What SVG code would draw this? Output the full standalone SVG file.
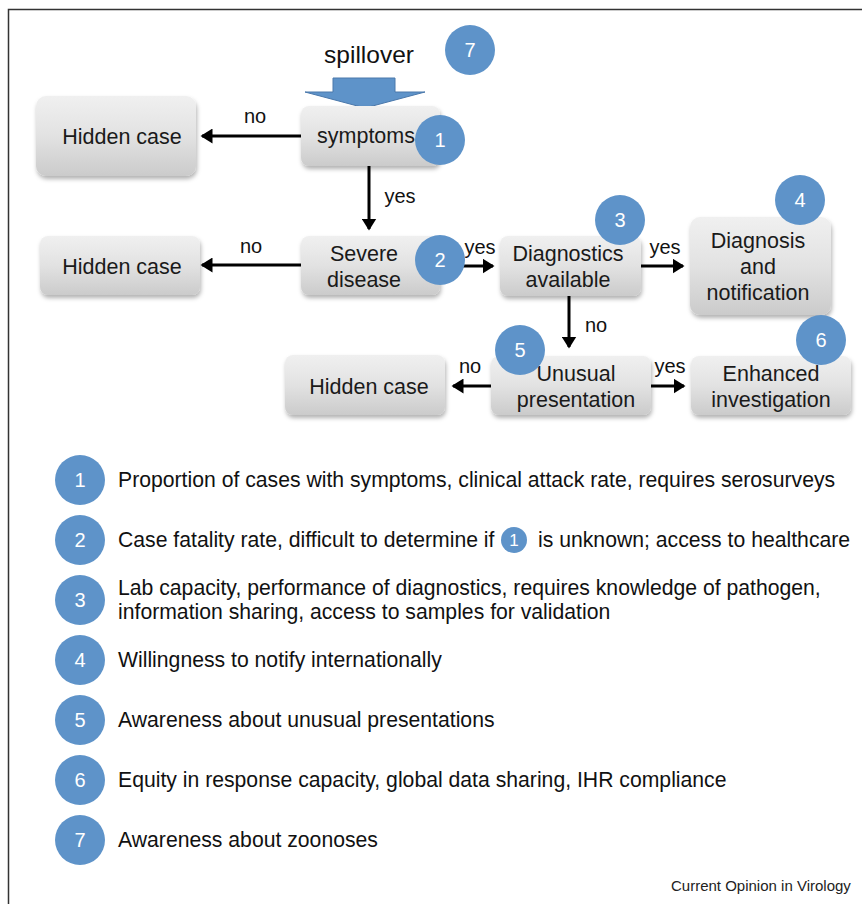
<svg xmlns="http://www.w3.org/2000/svg" width="862" height="904" viewBox="0 0 862 904">
<style>
text{font-family:"Liberation Sans",Arial,sans-serif;}
.box{fill:url(#g);filter:url(#sh);}
.nt{font-size:21.5px;fill:#1a1a1a;text-anchor:middle;}
.lbl{font-size:20px;fill:#111;text-anchor:middle;}
.c{fill:#5e93c9;}
.ct{font-size:20px;fill:#fff;text-anchor:middle;}
.lt{font-size:21.2px;fill:#111;}
.ar{stroke:#000;stroke-width:3;fill:none;marker-end:url(#ah);}
</style>
<defs>
<linearGradient id="g" x1="0" y1="0" x2="0" y2="1">
<stop offset="0" stop-color="#f0f0f0"/>
<stop offset="0.5" stop-color="#e2e2e2"/>
<stop offset="1" stop-color="#cbcbcb"/>
</linearGradient>
<filter id="sh" x="-10%" y="-10%" width="130%" height="140%">
<feDropShadow dx="1" dy="3" stdDeviation="2" flood-color="#000" flood-opacity="0.3"/>
</filter>
<marker id="ah" markerWidth="5" markerHeight="5" refX="3.5" refY="2.5" orient="auto" markerUnits="strokeWidth">
<path d="M0,0 L4,2.5 L0,5 Z" fill="#000"/>
</marker>
</defs>
<rect x="8.5" y="9.5" width="900" height="950" fill="#fff" stroke="#333" stroke-width="1.5"/>

<g id="spillover">
<text x="369" y="63" font-size="24.5" text-anchor="middle" fill="#111">spillover</text>
<polygon points="333,78 395,78 395,92 425,92 365,108 305,92 333,92" fill="#5e93c9" stroke="#4a78ab" stroke-width="1"/>
</g>

<g id="connectors">
<line class="ar" x1="301" y1="136" x2="202" y2="136"/>
<text class="lbl" x="255" y="123">no</text>
<line class="ar" x1="369" y1="166" x2="369" y2="229"/>
<text class="lbl" x="400" y="203">yes</text>
<line class="ar" x1="301" y1="265" x2="202" y2="265"/>
<text class="lbl" x="251" y="253">no</text>
<line class="ar" x1="462" y1="266" x2="493" y2="266"/>
<text class="lbl" x="480" y="254">yes</text>
<line class="ar" x1="641" y1="266" x2="683" y2="266"/>
<text class="lbl" x="665" y="254">yes</text>
<line class="ar" x1="569" y1="296" x2="569" y2="347"/>
<text class="lbl" x="596" y="332">no</text>
<line class="ar" x1="491" y1="386" x2="453" y2="386"/>
<text class="lbl" x="470" y="373">no</text>
<line class="ar" x1="651" y1="386" x2="684" y2="386"/>
<text class="lbl" x="670" y="373">yes</text>
</g>

<g id="hidden1"><rect class="box" x="36" y="96" width="160" height="80" rx="10"/><text class="nt" x="122" y="144">Hidden case</text></g>
<g id="symptoms"><rect class="box" x="301" y="106" width="139" height="60" rx="8"/><text class="nt" x="366" y="143">symptoms</text></g>
<g id="hidden2"><rect class="box" x="40" y="236" width="160" height="59" rx="8"/><text class="nt" x="122" y="274">Hidden case</text></g>
<g id="severe"><rect class="box" x="301" y="236" width="139" height="59" rx="8"/><text class="nt" x="364" y="261">Severe</text><text class="nt" x="364" y="287">disease</text></g>
<g id="diag"><rect class="box" x="500" y="236" width="141" height="60" rx="8"/><text class="nt" x="568" y="261">Diagnostics</text><text class="nt" x="568" y="287">available</text></g>
<g id="notif"><rect class="box" x="690" y="217" width="141" height="98" rx="10"/><text class="nt" x="758" y="248">Diagnosis</text><text class="nt" x="758" y="274">and</text><text class="nt" x="758" y="300">notification</text></g>
<g id="hidden3"><rect class="box" x="285" y="355" width="160" height="60" rx="8"/><text class="nt" x="369" y="394">Hidden case</text></g>
<g id="unusual"><rect class="box" x="491" y="356" width="160" height="59" rx="8"/><text class="nt" x="576" y="381">Unusual</text><text class="nt" x="576" y="407">presentation</text></g>
<g id="enhanced"><rect class="box" x="691" y="356" width="160" height="59" rx="8"/><text class="nt" x="771" y="381">Enhanced</text><text class="nt" x="771" y="407">investigation</text></g>

<g id="badges">
<circle class="c" cx="470" cy="50" r="25"/><text class="ct" x="470" y="57">7</text>
<circle class="c" cx="440" cy="140" r="25"/><text class="ct" x="440" y="147">1</text>
<circle class="c" cx="440" cy="260" r="25"/><text class="ct" x="440" y="267">2</text>
<circle class="c" cx="620" cy="220" r="25"/><text class="ct" x="620" y="227">3</text>
<circle class="c" cx="800" cy="200" r="25"/><text class="ct" x="800" y="207">4</text>
<circle class="c" cx="520" cy="350" r="25"/><text class="ct" x="520" y="357">5</text>
<circle class="c" cx="821" cy="340" r="25"/><text class="ct" x="821" y="347">6</text>
</g>

<g id="legend">
<circle class="c" cx="80" cy="480" r="25"/><text class="ct" x="80" y="487">1</text>
<text class="lt" x="118" y="487">Proportion of cases with symptoms, clinical attack rate, requires serosurveys</text>
<circle class="c" cx="80" cy="540" r="25"/><text class="ct" x="80" y="547">2</text>
<text class="lt" x="118" y="547">Case fatality rate, difficult to determine if</text>
<circle class="c" cx="514" cy="540" r="13"/><text x="514" y="546" font-size="17" fill="#fff" text-anchor="middle">1</text>
<text class="lt" x="538" y="547">is unknown; access to healthcare</text>
<circle class="c" cx="80" cy="600" r="25"/><text class="ct" x="80" y="607">3</text>
<text class="lt" x="118" y="595">Lab capacity, performance of diagnostics, requires knowledge of pathogen,</text>
<text class="lt" x="118" y="619">information sharing, access to samples for validation</text>
<circle class="c" cx="80" cy="660" r="25"/><text class="ct" x="80" y="667">4</text>
<text class="lt" x="118" y="667">Willingness to notify internationally</text>
<circle class="c" cx="80" cy="720" r="25"/><text class="ct" x="80" y="727">5</text>
<text class="lt" x="118" y="727">Awareness about unusual presentations</text>
<circle class="c" cx="80" cy="780" r="25"/><text class="ct" x="80" y="787">6</text>
<text class="lt" x="118" y="787">Equity in response capacity, global data sharing, IHR compliance</text>
<circle class="c" cx="80" cy="840" r="25"/><text class="ct" x="80" y="847">7</text>
<text class="lt" x="118" y="847">Awareness about zoonoses</text>
</g>
<text x="671" y="891" font-size="15" fill="#222">Current Opinion in Virology</text>
</svg>
